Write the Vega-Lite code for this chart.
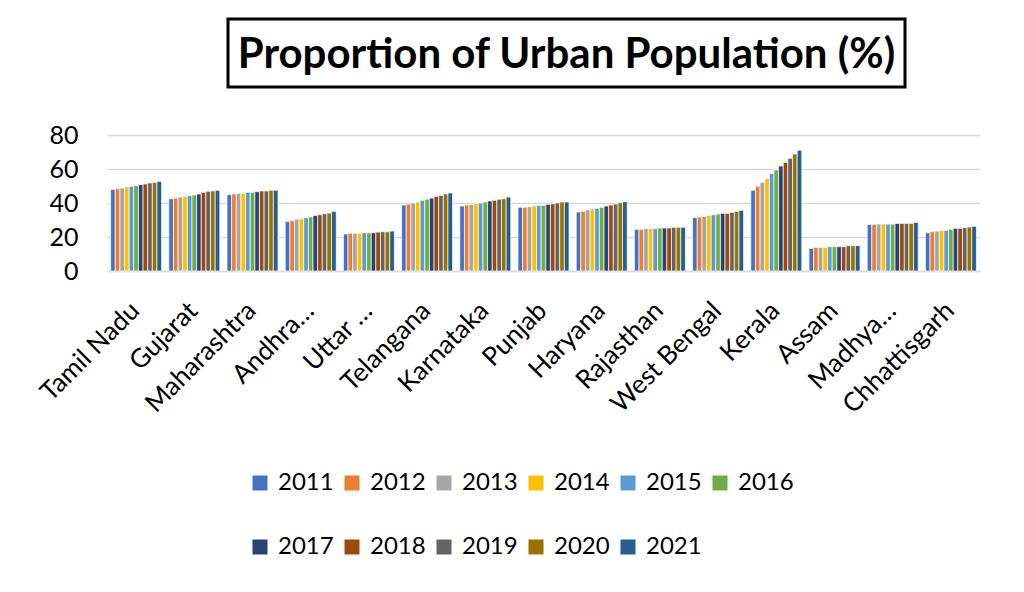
{
  "$schema": "https://vega.github.io/schema/vega-lite/v6.json",
  "autosize": {"type": "none"},
  "padding": {"left": 107, "top": 19, "right": 917, "bottom": 573},
  "background": "white",
  "bounds": "flush",
  "spacing": 116,
  "config": {
    "font": "Lato",
    "view": {"stroke": null},
    "axis": {"labelColor": "black", "labelFont": "Lato"}
  },
  "datasets": {
    "urban": [
      {"state":"Tamil Nadu","year":"2011","value":48.0},{"state":"Tamil Nadu","year":"2012","value":48.4},{"state":"Tamil Nadu","year":"2013","value":48.8},{"state":"Tamil Nadu","year":"2014","value":49.4},{"state":"Tamil Nadu","year":"2015","value":49.8},{"state":"Tamil Nadu","year":"2016","value":50.2},{"state":"Tamil Nadu","year":"2017","value":50.8},{"state":"Tamil Nadu","year":"2018","value":51.2},{"state":"Tamil Nadu","year":"2019","value":51.8},{"state":"Tamil Nadu","year":"2020","value":52.2},{"state":"Tamil Nadu","year":"2021","value":52.7},
      {"state":"Gujarat","year":"2011","value":42.5},{"state":"Gujarat","year":"2012","value":42.9},{"state":"Gujarat","year":"2013","value":43.5},{"state":"Gujarat","year":"2014","value":43.9},{"state":"Gujarat","year":"2015","value":44.3},{"state":"Gujarat","year":"2016","value":44.7},{"state":"Gujarat","year":"2017","value":45.3},{"state":"Gujarat","year":"2018","value":46.3},{"state":"Gujarat","year":"2019","value":46.9},{"state":"Gujarat","year":"2020","value":47.1},{"state":"Gujarat","year":"2021","value":47.5},
      {"state":"Maharashtra","year":"2011","value":44.9},{"state":"Maharashtra","year":"2012","value":45.3},{"state":"Maharashtra","year":"2013","value":45.7},{"state":"Maharashtra","year":"2014","value":45.7},{"state":"Maharashtra","year":"2015","value":46.3},{"state":"Maharashtra","year":"2016","value":46.3},{"state":"Maharashtra","year":"2017","value":46.7},{"state":"Maharashtra","year":"2018","value":47.1},{"state":"Maharashtra","year":"2019","value":47.1},{"state":"Maharashtra","year":"2020","value":47.5},{"state":"Maharashtra","year":"2021","value":47.5},
      {"state":"Andhra Pradesh","year":"2011","value":29.2},{"state":"Andhra Pradesh","year":"2012","value":29.6},{"state":"Andhra Pradesh","year":"2013","value":30.4},{"state":"Andhra Pradesh","year":"2014","value":30.8},{"state":"Andhra Pradesh","year":"2015","value":31.4},{"state":"Andhra Pradesh","year":"2016","value":31.8},{"state":"Andhra Pradesh","year":"2017","value":32.7},{"state":"Andhra Pradesh","year":"2018","value":33.1},{"state":"Andhra Pradesh","year":"2019","value":33.7},{"state":"Andhra Pradesh","year":"2020","value":34.1},{"state":"Andhra Pradesh","year":"2021","value":35.1},
      {"state":"Uttar Pradesh","year":"2011","value":21.8},{"state":"Uttar Pradesh","year":"2012","value":22.2},{"state":"Uttar Pradesh","year":"2013","value":22.2},{"state":"Uttar Pradesh","year":"2014","value":22.2},{"state":"Uttar Pradesh","year":"2015","value":22.5},{"state":"Uttar Pradesh","year":"2016","value":22.5},{"state":"Uttar Pradesh","year":"2017","value":22.5},{"state":"Uttar Pradesh","year":"2018","value":22.9},{"state":"Uttar Pradesh","year":"2019","value":23.1},{"state":"Uttar Pradesh","year":"2020","value":23.1},{"state":"Uttar Pradesh","year":"2021","value":23.5},
      {"state":"Telangana","year":"2011","value":38.8},{"state":"Telangana","year":"2012","value":39.4},{"state":"Telangana","year":"2013","value":40.0},{"state":"Telangana","year":"2014","value":40.6},{"state":"Telangana","year":"2015","value":41.6},{"state":"Telangana","year":"2016","value":42.2},{"state":"Telangana","year":"2017","value":42.9},{"state":"Telangana","year":"2018","value":43.9},{"state":"Telangana","year":"2019","value":44.5},{"state":"Telangana","year":"2020","value":45.3},{"state":"Telangana","year":"2021","value":45.9},
      {"state":"Karnataka","year":"2011","value":38.2},{"state":"Karnataka","year":"2012","value":38.8},{"state":"Karnataka","year":"2013","value":39.2},{"state":"Karnataka","year":"2014","value":39.6},{"state":"Karnataka","year":"2015","value":40.0},{"state":"Karnataka","year":"2016","value":40.6},{"state":"Karnataka","year":"2017","value":41.2},{"state":"Karnataka","year":"2018","value":41.6},{"state":"Karnataka","year":"2019","value":42.2},{"state":"Karnataka","year":"2020","value":42.5},{"state":"Karnataka","year":"2021","value":43.5},
      {"state":"Punjab","year":"2011","value":37.5},{"state":"Punjab","year":"2012","value":37.5},{"state":"Punjab","year":"2013","value":37.8},{"state":"Punjab","year":"2014","value":38.2},{"state":"Punjab","year":"2015","value":38.6},{"state":"Punjab","year":"2016","value":38.6},{"state":"Punjab","year":"2017","value":39.2},{"state":"Punjab","year":"2018","value":39.6},{"state":"Punjab","year":"2019","value":40.0},{"state":"Punjab","year":"2020","value":40.6},{"state":"Punjab","year":"2021","value":40.6},
      {"state":"Haryana","year":"2011","value":34.7},{"state":"Haryana","year":"2012","value":35.1},{"state":"Haryana","year":"2013","value":35.9},{"state":"Haryana","year":"2014","value":36.5},{"state":"Haryana","year":"2015","value":36.9},{"state":"Haryana","year":"2016","value":37.5},{"state":"Haryana","year":"2017","value":38.2},{"state":"Haryana","year":"2018","value":38.8},{"state":"Haryana","year":"2019","value":39.4},{"state":"Haryana","year":"2020","value":40.2},{"state":"Haryana","year":"2021","value":40.8},
      {"state":"Rajasthan","year":"2011","value":24.5},{"state":"Rajasthan","year":"2012","value":24.5},{"state":"Rajasthan","year":"2013","value":24.9},{"state":"Rajasthan","year":"2014","value":24.9},{"state":"Rajasthan","year":"2015","value":24.9},{"state":"Rajasthan","year":"2016","value":25.3},{"state":"Rajasthan","year":"2017","value":25.3},{"state":"Rajasthan","year":"2018","value":25.3},{"state":"Rajasthan","year":"2019","value":25.7},{"state":"Rajasthan","year":"2020","value":25.7},{"state":"Rajasthan","year":"2021","value":25.7},
      {"state":"West Bengal","year":"2011","value":31.4},{"state":"West Bengal","year":"2012","value":31.8},{"state":"West Bengal","year":"2013","value":32.2},{"state":"West Bengal","year":"2014","value":32.7},{"state":"West Bengal","year":"2015","value":33.1},{"state":"West Bengal","year":"2016","value":33.5},{"state":"West Bengal","year":"2017","value":33.9},{"state":"West Bengal","year":"2018","value":33.9},{"state":"West Bengal","year":"2019","value":34.5},{"state":"West Bengal","year":"2020","value":35.1},{"state":"West Bengal","year":"2021","value":35.7},
      {"state":"Kerala","year":"2011","value":47.5},{"state":"Kerala","year":"2012","value":49.8},{"state":"Kerala","year":"2013","value":52.2},{"state":"Kerala","year":"2014","value":54.3},{"state":"Kerala","year":"2015","value":57.3},{"state":"Kerala","year":"2016","value":59.4},{"state":"Kerala","year":"2017","value":61.8},{"state":"Kerala","year":"2018","value":63.9},{"state":"Kerala","year":"2019","value":66.3},{"state":"Kerala","year":"2020","value":68.8},{"state":"Kerala","year":"2021","value":71.0},
      {"state":"Assam","year":"2011","value":13.3},{"state":"Assam","year":"2012","value":13.9},{"state":"Assam","year":"2013","value":13.9},{"state":"Assam","year":"2014","value":13.9},{"state":"Assam","year":"2015","value":14.3},{"state":"Assam","year":"2016","value":14.3},{"state":"Assam","year":"2017","value":14.3},{"state":"Assam","year":"2018","value":14.3},{"state":"Assam","year":"2019","value":14.9},{"state":"Assam","year":"2020","value":14.9},{"state":"Assam","year":"2021","value":14.9},
      {"state":"Madhya Pradesh","year":"2011","value":27.3},{"state":"Madhya Pradesh","year":"2012","value":27.3},{"state":"Madhya Pradesh","year":"2013","value":27.6},{"state":"Madhya Pradesh","year":"2014","value":27.6},{"state":"Madhya Pradesh","year":"2015","value":27.6},{"state":"Madhya Pradesh","year":"2016","value":27.6},{"state":"Madhya Pradesh","year":"2017","value":28.0},{"state":"Madhya Pradesh","year":"2018","value":28.0},{"state":"Madhya Pradesh","year":"2019","value":28.0},{"state":"Madhya Pradesh","year":"2020","value":28.0},{"state":"Madhya Pradesh","year":"2021","value":28.6},
      {"state":"Chhattisgarh","year":"2011","value":22.5},{"state":"Chhattisgarh","year":"2012","value":23.1},{"state":"Chhattisgarh","year":"2013","value":23.5},{"state":"Chhattisgarh","year":"2014","value":23.9},{"state":"Chhattisgarh","year":"2015","value":23.9},{"state":"Chhattisgarh","year":"2016","value":24.5},{"state":"Chhattisgarh","year":"2017","value":25.1},{"state":"Chhattisgarh","year":"2018","value":25.1},{"state":"Chhattisgarh","year":"2019","value":25.5},{"state":"Chhattisgarh","year":"2020","value":25.9},{"state":"Chhattisgarh","year":"2021","value":26.3}
    ]
  },
  "vconcat": [
    {
      "spacing": 0,
      "bounds": "flush",
      "hconcat": [
        {
          "width": 121,
          "height": 68,
          "view": {"stroke": null},
          "data": {"values": [{"t": ""}]},
          "mark": {"type": "text"},
          "encoding": {"text": {"field": "t", "type": "nominal"}}
        },
        {
          "width": 677,
          "height": 68,
          "view": {"stroke": "black", "strokeWidth": 3},
          "data": {"values": [{"t": "Proportion of Urban Population (%)"}]},
          "mark": {"type": "text", "font": "Lato", "fontWeight": "bold", "fontSize": 42, "color": "black", "dy": 2},
          "encoding": {"text": {"field": "t", "type": "nominal"}}
        }
      ]
    },
    {
      "width": 873,
      "height": 136,
      "data": {"name": "urban"},
      "mark": {"type": "bar", "stroke": "white", "strokeWidth": 0.7},
      "encoding": {
        "x": {
          "field": "state",
          "type": "nominal",
          "sort": null,
          "title": null,
          "scale": {"paddingInner": 0.124, "paddingOuter": 0.062},
          "axis": {
            "labelAngle": -45,
            "labelFontSize": 26,
            "labelPadding": 26,
            "labelOffset": -10,
            "labelLimit": 300,
            "ticks": false,
            "domainColor": "#d9d9d9",
            "domainWidth": 1.5,
            "labelExpr": "datum.label == 'Andhra Pradesh' ? 'Andhra…' : datum.label == 'Uttar Pradesh' ? 'Uttar …' : datum.label == 'Madhya Pradesh' ? 'Madhya…' : datum.label"
          }
        },
        "xOffset": {"field": "year", "type": "nominal", "scale": {"paddingInner": 0, "paddingOuter": 0}},
        "y": {
          "field": "value",
          "type": "quantitative",
          "title": null,
          "scale": {"domain": [0, 80], "nice": false},
          "axis": {
            "values": [0, 20, 40, 60, 80],
            "labelFontSize": 25,
            "labelPadding": 29,
            "ticks": false,
            "domain": false,
            "gridColor": "#d9d9d9",
            "gridWidth": 1.5
          }
        },
        "color": {
          "field": "year",
          "type": "nominal",
          "scale": {
            "domain": ["2011","2012","2013","2014","2015","2016","2017","2018","2019","2020","2021"],
            "range": ["#4472C4","#ED7D31","#A5A5A5","#FFC000","#5B9BD5","#70AD47","#264478","#9E480E","#636363","#997300","#255E91"]
          },
          "legend": {
            "title": null,
            "orient": "none",
            "legendX": 141,
            "legendY": 452,
            "direction": "horizontal",
            "columns": 6,
            "symbolType": "square",
            "symbolSize": 225,
            "symbolStrokeWidth": 0,
            "labelFontSize": 24,
            "labelColor": "black",
            "labelOffset": 6,
            "columnPadding": 6,
            "rowPadding": 40,
            "padding": 0
          }
        }
      }
    }
  ]
}
